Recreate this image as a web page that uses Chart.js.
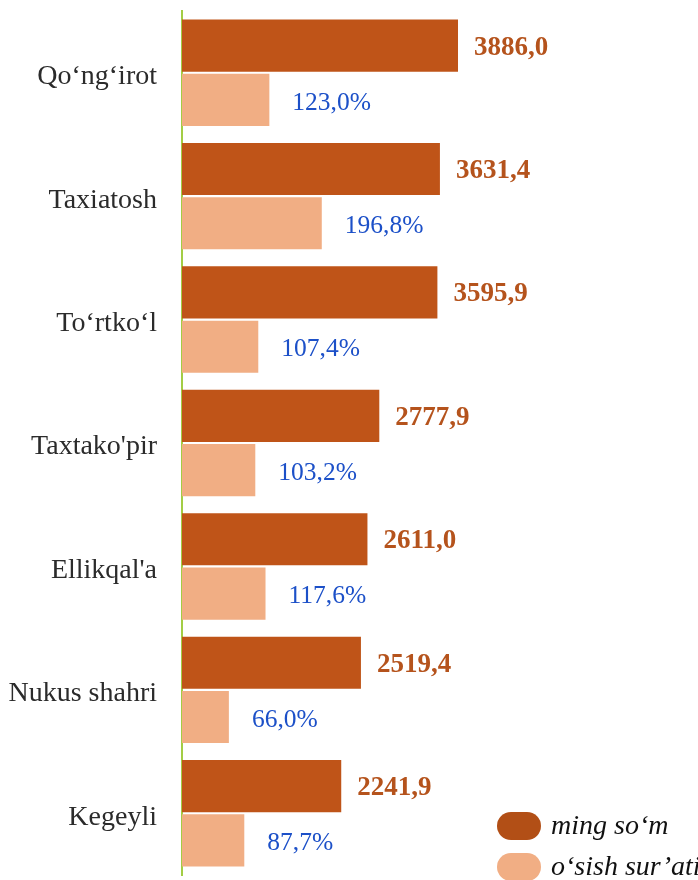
<!DOCTYPE html>
<html>
<head>
<meta charset="utf-8">
<script src="https://cdn.jsdelivr.net/npm/chart.js@4/dist/chart.umd.min.js"></script>
<style>
  html, body { margin: 0; padding: 0; background: #fff; }
  #wrap { width: 698px; height: 880px; position: relative; }
</style>
</head>
<body>
<div id="wrap"><canvas id="chart" width="698" height="880"></canvas></div>
<script>
// ---- data ----
const districts = ["Qo‘ng‘irot", "Taxiatosh", "To‘rtko‘l", "Taxtako'pir", "Ellikqal'a", "Nukus shahri", "Kegeyli"];
const amountValues = [3886.0, 3631.4, 3595.9, 2777.9, 2611.0, 2519.4, 2241.9];   // ming so'm
const growthValues = [123.0, 196.8, 107.4, 103.2, 117.6, 66.0, 87.7];            // o'sish sur'ati, %
const seriesNames = ["ming so‘m", "o‘sish sur’ati"];

const DARK = '#bf5418';
const LIGHT = '#f1ae84';
const SERIF = '"Liberation Serif", "Times New Roman", serif';

const fmt = v => v.toFixed(1).replace('.', ',');

// value labels next to each bar
const valueLabels = {
  id: 'valueLabels',
  afterDatasetsDraw(chart) {
    const ctx = chart.ctx;
    ctx.save();
    ctx.textBaseline = 'middle';
    ctx.textAlign = 'left';
    chart.data.datasets.forEach((ds, di) => {
      chart.getDatasetMeta(di).data.forEach((bar, i) => {
        if (di === 0) {
          ctx.font = 'bold 27px ' + SERIF;
          ctx.fillStyle = '#b5531c';
          ctx.fillText(fmt(ds.data[i]), bar.x + 16, bar.y + 2);
        } else {
          ctx.font = '25.5px ' + SERIF;
          ctx.fillStyle = '#1c50c8';
          ctx.fillText(fmt(ds.data[i]) + '%', bar.x + 23, bar.y + 3);
        }
      });
    });
    ctx.restore();
  }
};

// legend sitting inside the plot, bottom right
const cornerLegend = {
  id: 'cornerLegend',
  afterDraw(chart) {
    const ctx = chart.ctx;
    ctx.save();
    chart.data.datasets.forEach((ds, i) => {
      const y = 826 + i * 41;
      ctx.fillStyle = i === 0 ? '#b24f16' : ds.backgroundColor;
      ctx.beginPath();
      ctx.roundRect(497, y - 14, 44, 28, 14);
      ctx.fill();
      ctx.font = 'italic 28px ' + SERIF;
      ctx.fillStyle = '#111';
      ctx.textBaseline = 'middle';
      ctx.fillText(ds.label, 551, y + 1);
    });
    ctx.restore();
  }
};

new Chart(document.getElementById('chart'), {
  type: 'bar',
  data: {
    labels: districts,
    datasets: [
      { label: seriesNames[0], data: amountValues, xAxisID: 'x', backgroundColor: DARK },
      { label: seriesNames[1], data: growthValues, xAxisID: 'x2', backgroundColor: LIGHT }
    ]
  },
  options: {
    indexAxis: 'y',
    responsive: false,
    animation: false,
    layout: { padding: { top: 11, bottom: 5, left: 0, right: 0 } },
    datasets: { bar: { categoryPercentage: 0.88, barPercentage: 0.96 } },
    plugins: { legend: { display: false }, tooltip: { enabled: false } },
    scales: {
      x:  { display: false, min: 0, max: 7265, grid: { display: false } },
      x2: { display: false, min: 0, max: 726.5, grid: { display: false } },
      y: {
        grid: { display: false },
        border: { display: true, color: '#a3cd45', width: 2 },
        ticks: { color: '#2b2b2b', padding: 17, labelOffset: 4, font: { family: SERIF, size: 28 } },
        afterFit(scale) {
          scale.width = 182;
          scale.paddingTop = 0;
          scale.paddingBottom = 0;
        }
      }
    }
  },
  plugins: [valueLabels, cornerLegend]
});
</script>
</body>
</html>
